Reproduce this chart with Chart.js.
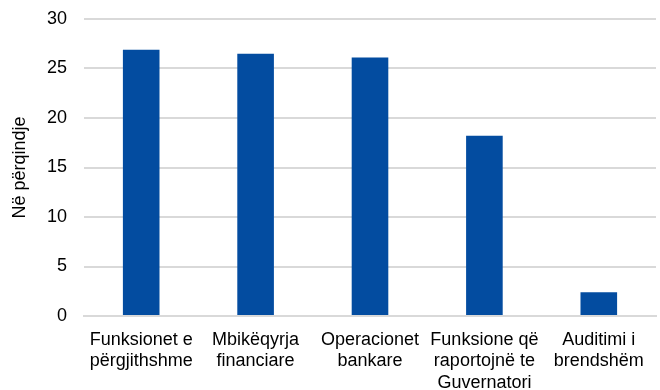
<!DOCTYPE html>
<html>
<head>
<meta charset="utf-8">
<script src="https://cdn.jsdelivr.net/npm/chart.js@4/dist/chart.umd.min.js"></script>
<style>
html,body{margin:0;padding:0;background:#fff;}
#wrap{width:660px;height:390px;position:relative;}
</style>
</head>
<body>
<div id="wrap"><canvas id="c" width="660" height="390"></canvas></div>
<script>
const categories = [
  ["Funksionet e", "përgjithshme"],
  ["Mbikëqyrja", "financiare"],
  ["Operacionet", "bankare"],
  ["Funksione që", "raportojnë te", "Guvernatori"],
  ["Auditimi i", "brendshëm"]
];
const values = [26.9, 26.5, 26.1, 18.2, 2.4];
const yTicks = [0, 5, 10, 15, 20, 25, 30];
const yTitle = "Në përqindje";

Chart.defaults.font.family = "'Liberation Sans', Arial, sans-serif";
Chart.defaults.color = "#000";

new Chart(document.getElementById('c'), {
  type: 'bar',
  data: {
    labels: categories,
    datasets: [{
      data: values,
      backgroundColor: '#034ca0',
      borderWidth: 0,
      categoryPercentage: 1,
      barPercentage: 0.32
    }]
  },
  options: {
    responsive: false,
    animation: false,
    layout: { padding: { top: 19, right: 4, left: 0, bottom: 0 } },
    plugins: { legend: { display: false }, tooltip: { enabled: false } },
    scales: {
      x: {
        grid: { display: false, drawTicks: false },
        border: { display: true, color: '#d9d9d9', width: 2 },
        ticks: { font: { size: 18, lineHeight: 1.2 }, padding: 13, maxRotation: 0, autoSkip: false, color: '#000' },
        afterFit: s => { s.height = 74; s.paddingLeft = 0; s.paddingRight = 0; }
      },
      y: {
        min: 0, max: 30,
        afterBuildTicks: s => { s.ticks = yTicks.map(v => ({ value: v })); },
        grid: { color: '#d9d9d9', lineWidth: 2, drawTicks: false },
        border: { display: false },
        ticks: { font: { size: 18 }, padding: 17, color: '#000' },
        title: { display: true, text: yTitle, font: { size: 18 }, color: '#000', padding: { top: 9, bottom: 0 } },
        afterFit: s => { s.width = 84; s.paddingTop = 0; s.paddingBottom = 0; }
      }
    }
  }
});
</script>
</body>
</html>
